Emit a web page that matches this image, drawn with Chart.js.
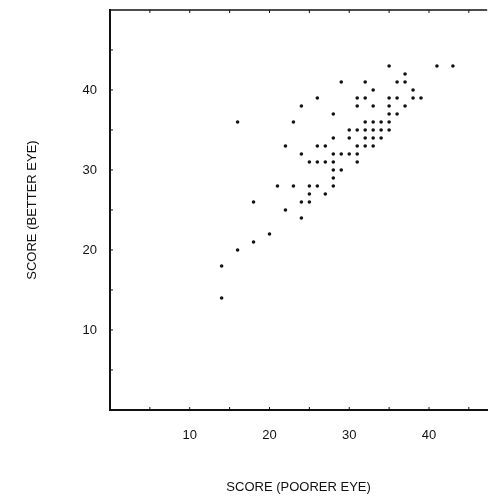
<!DOCTYPE html>
<html>
<head>
<meta charset="utf-8">
<script src="https://cdn.jsdelivr.net/npm/chart.js@4.4.1/dist/chart.umd.min.js"></script>
<style>
  html, body { margin: 0; padding: 0; background: #fff; }
</style>
</head>
<body>
<canvas id="eyeChart" width="489" height="499"></canvas>
<script>
// scores, one entry per dot
const poorerEye = [14, 14, 16, 18, 20, 22, 18, 21, 23, 22, 16, 23, 24, 24, 25, 25, 25, 24, 24, 25,
  26, 28, 27, 26, 27, 28, 31, 28, 29, 28,
  28, 29, 30, 31,
  26, 27, 31, 32, 33,
  28, 30, 32, 33, 34,
  30, 31, 32, 33, 34, 35,
  32, 33, 34, 35,
  28, 35, 36,
  31, 33, 35, 37,
  26, 31, 32, 35, 36, 38, 39,
  33, 38,
  29, 32, 36, 37,
  37,
  35, 41, 43];
const betterEye = [14, 18, 20, 21, 22, 25, 26, 28, 28, 33, 36, 36, 38, 32, 31, 28, 27, 26, 24, 26,
  28, 28, 27, 31, 31, 31, 31, 30, 30, 29,
  32, 32, 32, 32,
  33, 33, 33, 33, 33,
  34, 34, 34, 34, 34,
  35, 35, 35, 35, 35, 35,
  36, 36, 36, 36,
  37, 37, 37,
  38, 38, 38, 38,
  39, 39, 39, 39, 39, 39, 39,
  40, 40,
  41, 41, 41, 41,
  42,
  43, 43, 43];
const labelTicks = [10, 20, 30, 40];
const markTicks = [5, 10, 15, 20, 25, 30, 35, 40, 45];

const points = poorerEye.map((v, i) => ({ x: v, y: betterEye[i] }));

// top border and the small inward tick marks
const frame = {
  id: 'frame',
  afterDraw(chart) {
    const { ctx, chartArea: a, scales: { x, y } } = chart;
    ctx.save();
    ctx.strokeStyle = '#111';
    ctx.lineWidth = 1.5;
    ctx.beginPath();
    ctx.moveTo(a.left, a.top);
    ctx.lineTo(a.right, a.top);
    ctx.stroke();
    ctx.lineWidth = 1;
    ctx.beginPath();
    markTicks.forEach(v => {
      const px = x.getPixelForValue(v);
      ctx.moveTo(px, a.bottom); ctx.lineTo(px, a.bottom - 3);
      ctx.moveTo(px, a.top); ctx.lineTo(px, a.top + 3);
      const py = y.getPixelForValue(v);
      ctx.moveTo(a.left, py); ctx.lineTo(a.left + 3, py);
    });
    ctx.stroke();
    ctx.restore();
  }
};

new Chart(document.getElementById('eyeChart'), {
  type: 'scatter',
  data: {
    datasets: [{
      data: points,
      backgroundColor: '#111',
      borderColor: '#111',
      pointRadius: 1.8,
      pointHoverRadius: 1.8,
      borderWidth: 0
    }]
  },
  options: {
    responsive: false,
    animation: false,
    layout: { padding: { top: 10, right: 0, left: 0, bottom: 0 } },
    plugins: { legend: { display: false }, tooltip: { enabled: false } },
    scales: {
      x: {
        type: 'linear',
        min: 0,
        max: 47.3,
        afterFit: s => { s.height = 89; s.paddingLeft = 0; s.paddingRight = 0; },
        grid: { drawOnChartArea: false, drawTicks: false },
        border: { display: true, color: '#111', width: 2 },
        ticks: {
          stepSize: 5,
          autoSkip: false,
          maxRotation: 0,
          padding: 18,
          color: '#111',
          font: { family: 'Liberation Sans, Arial, sans-serif', size: 13 },
          callback: v => labelTicks.includes(v) ? v : ''
        },
        title: {
          display: true,
          text: 'SCORE (POORER EYE)',
          color: '#111',
          font: { family: 'Liberation Sans, Arial, sans-serif', size: 13 },
          padding: { top: 0, bottom: 4 }
        }
      },
      y: {
        type: 'linear',
        min: 0,
        max: 50,
        afterFit: s => { s.width = 110; s.paddingTop = 0; s.paddingBottom = 0; },
        grid: { drawOnChartArea: false, drawTicks: false },
        border: { display: true, color: '#111', width: 2 },
        ticks: {
          stepSize: 5,
          autoSkip: false,
          padding: 13,
          color: '#111',
          font: { family: 'Liberation Sans, Arial, sans-serif', size: 13 },
          callback: v => labelTicks.includes(v) ? v : ''
        },
        title: {
          display: true,
          text: 'SCORE (BETTER EYE)',
          color: '#111',
          font: { family: 'Liberation Sans, Arial, sans-serif', size: 13 },
          padding: { top: 25, bottom: 0 }
        }
      }
    }
  },
  plugins: [frame]
});
</script>
</body>
</html>
